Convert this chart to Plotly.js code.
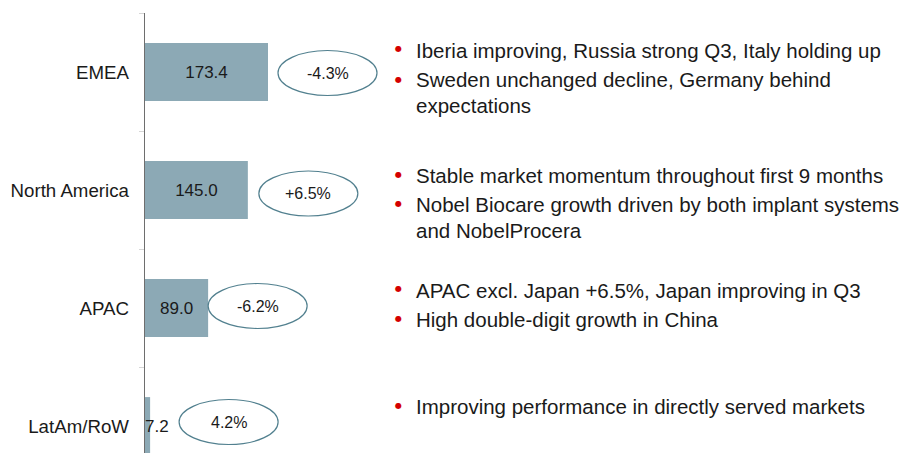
<!DOCTYPE html>
<html>
<head>
<meta charset="utf-8">
<script src="https://cdn.plot.ly/plotly-3.0.1.min.js"></script>
<style>html,body{margin:0;padding:0;background:#fff;}#chart{width:920px;height:453px;}</style>
</head>
<body>
<div id="chart"></div>
<script>
// ---- data ----
var regions = ['EMEA', 'North America', 'APAC', 'LatAm/RoW'];
var sales = [173.4, 145.0, 89.0, 7.2];
var valueLabels = ['173.4', '145.0', '89.0', '7.2'];
var growthLabels = ['-4.3%', '+6.5%', '-6.2%', '4.2%'];
var comments = [
  ['Iberia improving, Russia strong Q3, Italy holding up', 'Sweden unchanged decline, Germany behind\nexpectations'],
  ['Stable market momentum throughout first 9 months', 'Nobel Biocare growth driven by both implant systems\nand NobelProcera'],
  ['APAC excl. Japan +6.5%, Japan improving in Q3', 'High double-digit growth in China'],
  ['Improving performance in directly served markets']
];

// ---- layout constants ----
var W = 920, H = 453, L = 145, T = 13;
var FONT = 'Liberation Sans, Arial, sans-serif';
var BAR = '#8ca9b5';
var pxScale = 123 / 173.4;              // pixels per unit
var xMax = (W - L) / pxScale;
var band = 118;
var yBottom = 3.5 - (H - T) / band;
function px2paperX(px) { return (px - L) / (W - L); }
function px2paperY(py) { return (H - py) / (H - T); }

// oval offsets (pixels) relative to bar end / band centre
var ovalGap = [10, 11, 0, 29];
var ovalDy = [1, 3.5, -2, -4];
var ovalW = 99, ovalH = 45;

// bullet text line centres (pixels)
var lineY = [[50, 80, 105], [175, 204.5, 230], [290, 319.5], [406.5]];

// split bars: wide bars get centred labels, narrow bar gets a label anchored at start
var wideIdx = [], narrowIdx = [];
sales.forEach(function (v, i) { (v > 20 ? wideIdx : narrowIdx).push(i); });
function pick(arr, idx) { return idx.map(function (i) { return arr[i]; }); }

var traces = [
  {
    type: 'bar', orientation: 'h',
    y: pick(regions, wideIdx), x: pick(sales, wideIdx),
    text: pick(valueLabels, wideIdx), textposition: 'inside', insidetextanchor: 'middle',
    textangle: 0, constraintext: 'none',
    textfont: {family: FONT, size: 17, color: '#1a1a1a'},
    marker: {color: BAR, line: {width: 0}}, width: 0.49, hoverinfo: 'skip'
  },
  {
    type: 'bar', orientation: 'h',
    y: pick(regions, narrowIdx), x: pick(sales, narrowIdx),
    text: pick(valueLabels, narrowIdx), textposition: 'inside', insidetextanchor: 'start',
    textangle: 0, constraintext: 'none',
    textfont: {family: FONT, size: 17, color: '#1a1a1a'},
    marker: {color: BAR, line: {width: 0}}, width: 0.49, hoverinfo: 'skip'
  }
];

var shapes = [], annotations = [];
regions.forEach(function (r, i) {
  shapes.push({
    type: 'circle', xref: 'x', yref: 'y',
    xsizemode: 'pixel', xanchor: sales[i], x0: ovalGap[i], x1: ovalGap[i] + ovalW,
    ysizemode: 'pixel', yanchor: r, y0: -ovalH / 2 - ovalDy[i], y1: ovalH / 2 - ovalDy[i],
    line: {color: '#52808f', width: 1.2}, fillcolor: 'rgba(0,0,0,0)'
  });
  annotations.push({
    xref: 'x', yref: 'y', x: sales[i], y: r,
    xshift: ovalGap[i] + ovalW / 2, yshift: -ovalDy[i],
    text: growthLabels[i], showarrow: false, xanchor: 'center', yanchor: 'middle',
    font: {family: FONT, size: 16, color: '#1a1a1a'}
  });
  var li = 0;
  comments[i].forEach(function (c) {
    var parts = c.split('\n');
    parts.forEach(function (p, k) {
      var yy = lineY[i][li++];
      if (k === 0) {
        annotations.push({
          xref: 'paper', yref: 'paper', x: px2paperX(398), y: px2paperY(yy - 1),
          text: '\u25CF', showarrow: false, xanchor: 'center', yanchor: 'middle',
          font: {family: 'DejaVu Sans', size: 8, color: '#d40000'}
        });
      }
      annotations.push({
        xref: 'paper', yref: 'paper', x: px2paperX(414), y: px2paperY(yy),
        text: p, showarrow: false, xanchor: 'left', yanchor: 'middle',
        font: {family: FONT, size: 20.5, color: '#1a1a1a'}
      });
    });
  });
});

var layout = {
  width: W, height: H,
  margin: {l: L, r: 0, t: T, b: 0, pad: 0},
  paper_bgcolor: '#ffffff', plot_bgcolor: '#ffffff',
  showlegend: false, barmode: 'overlay',
  xaxis: {range: [0, xMax], visible: false, fixedrange: true},
  yaxis: {
    type: 'category', categoryorder: 'array', categoryarray: regions.slice().reverse(),
    range: [yBottom, 3.5], showline: true, linecolor: '#6e6e6e', linewidth: 1.3,
    ticks: 'outside', tickson: 'boundaries', ticklen: 5, tickcolor: '#d6d6d6', tickwidth: 1,
    showgrid: false, zeroline: false, ticklabelstandoff: 11,
    tickfont: {family: FONT, size: 18.7, color: '#1a1a1a'}, fixedrange: true
  },
  shapes: shapes,
  annotations: annotations
};

Plotly.newPlot('chart', traces, layout, {displayModeBar: false, staticPlot: true});
</script>
</body>
</html>
